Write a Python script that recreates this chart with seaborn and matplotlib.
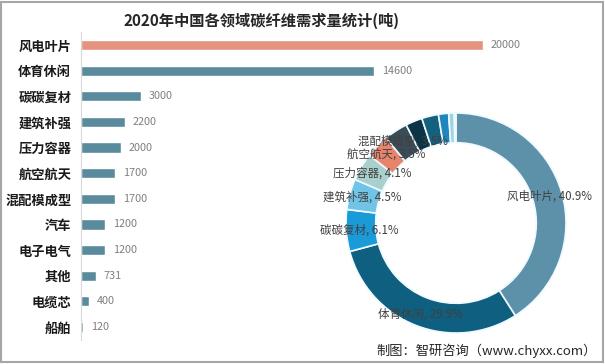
import numpy as np
import pandas as pd
import matplotlib
matplotlib.use("Agg")
import matplotlib.pyplot as plt
import seaborn as sns
from matplotlib.patches import Rectangle

sns.set_theme(style="white")
plt.rcParams['font.family'] = ['Noto Sans CJK SC', 'DejaVu Sans']

title = "2020年中国各领域碳纤维需求量统计(吨)"
categories = ["风电叶片", "体育休闲", "碳碳复材", "建筑补强", "压力容器", "航空航天",
              "混配模成型", "汽车", "电子电气", "其他", "电缆芯", "船舶"]
values = [20000, 14600, 3000, 2200, 2000, 1700, 1700, 1200, 1200, 731, 400, 120]
bar_colors = ["#e3937e"] + ["#5a8b9c"] * 11
donut_colors = ["#5d91a9", "#0e5f80", "#1a9bd7", "#72c4e6", "#a9d0cc", "#e8846c",
                "#3b4b57", "#0c3447", "#15607f", "#1f86bd", "#9fd3e3", "#6a9aae"]
n_labeled = 7
source = "制图：智研咨询（www.chyxx.com）"

df = pd.DataFrame({"category": categories, "value": values})

W, H = 605, 364
fig = plt.figure(figsize=(W / 100, H / 100), dpi=100)
fig.patch.set_facecolor("white")

# ---- bar chart ----
ax_left, ax_right = 81, 540
ax_top, ax_bot = 32.2, 339.8
ax = fig.add_axes([ax_left / W, 1 - ax_bot / H, (ax_right - ax_left) / W, (ax_bot - ax_top) / H])
sns.barplot(data=df, y="category", x="value", hue="category", palette=bar_colors,
            legend=False, ax=ax, width=0.4, orient="h", saturation=1)
xmax = 20000 * (ax_right - ax_left) / (483 - ax_left)
ax.set_xlim(0, xmax)
ax.set_ylim(len(categories) - 0.5, -0.5)
ax.set_xlabel("")
ax.set_ylabel("")
ax.set_xticks([])
ax.tick_params(axis="y", length=0, pad=7)
for lab in ax.get_yticklabels():
    lab.set_fontweight("bold")
    lab.set_fontsize(9.5)
    lab.set_color("#1a1a1a")
for s in ["top", "right", "bottom"]:
    ax.spines[s].set_visible(False)
ax.spines["left"].set_color("#d9d9d9")
ax.spines["left"].set_linewidth(0.8)
ax.patch.set_alpha(0)
for i, v in enumerate(values):
    ax.text(v + xmax * 0.017, i, f"{v}", va="center", ha="left", fontsize=7.8,
            color="#7f7f7f")

# ---- donut ----
cx, cy, R = 456, 223, 110
pax = fig.add_axes([(cx - R) / W, 1 - (cy + R) / H, 2 * R / W, 2 * R / H])
wedges, _ = pax.pie(values, colors=donut_colors, startangle=90, counterclock=False,
                    radius=1.0, wedgeprops=dict(width=0.27, edgecolor="#eefaff", linewidth=1.2))
pax.set_xlim(-1, 1)
pax.set_ylim(-1, 1)
pax.set_aspect("equal")
pax.axis("off")
total = sum(values)
for i in range(n_labeled):
    w = wedges[i]
    ang = np.deg2rad((w.theta1 + w.theta2) / 2)
    r = 0.885
    pct = values[i] / total * 100
    pax.text(r * np.cos(ang), r * np.sin(ang), f"{categories[i]}, {pct:.1f}%",
             ha="center", va="center", fontsize=8.3, color="#404040")

# ---- texts ----
fig.text(262 / W, 1 - 21 / H, title, ha="center", va="center", fontsize=11,
         fontweight="bold", color="#262626")
fig.text(597 / W, 1 - 351 / H, source, ha="right", va="center", fontsize=9.5, color="#262626")

# frame
fig.add_artist(Rectangle((0.002, 0.005), 0.994, 0.99, transform=fig.transFigure,
                         fill=False, edgecolor="#a6a6a6", linewidth=1.5))

fig.savefig("out.png", dpi=100, facecolor="white")
